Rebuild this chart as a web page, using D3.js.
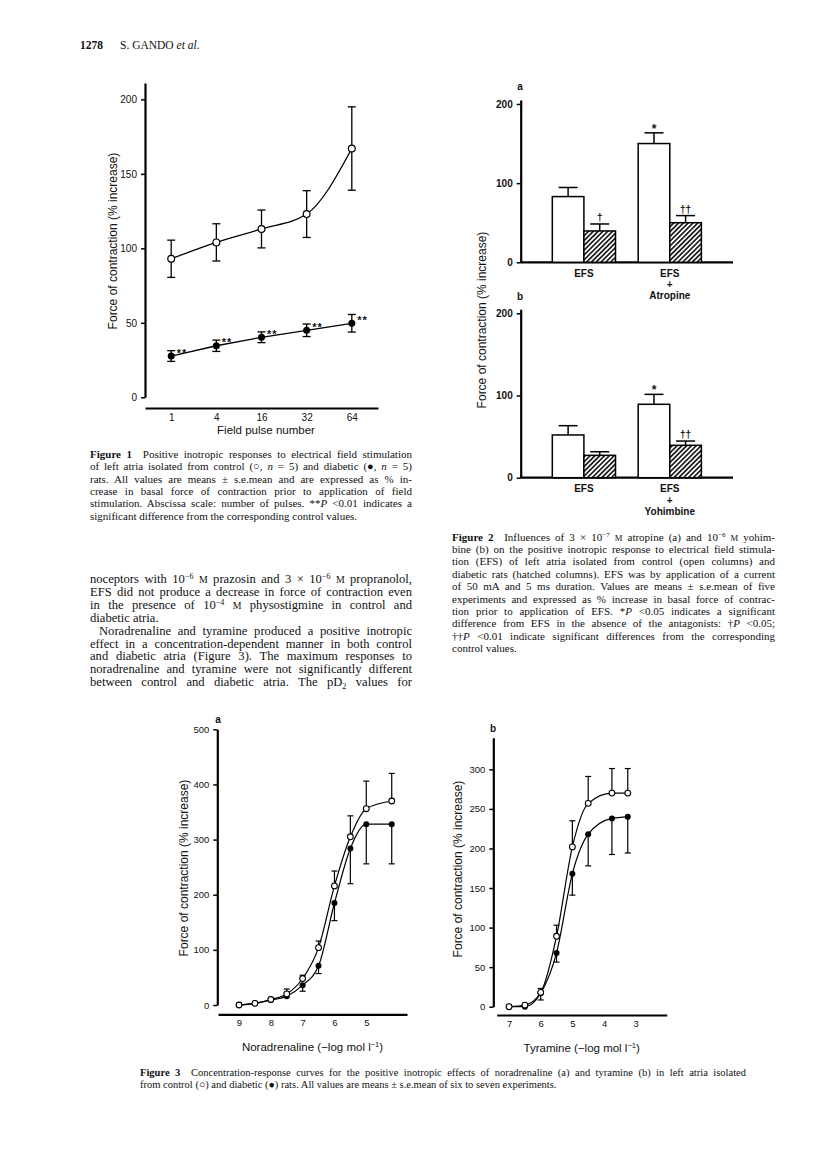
<!DOCTYPE html>
<html><head><meta charset="utf-8">
<script src="https://cdn.jsdelivr.net/npm/d3@7"></script>
<style>html,body{margin:0;padding:0;background:#fff}svg{display:block}</style>
</head><body>
<svg id="page" width="816" height="1171"></svg>
<script>
// ---------------- DATA ----------------
// Figure 1
const fig1Pulses = ["1", "4", "16", "32", "64"];
const fig1Control = [93, 104, 113, 123, 167];
const fig1ControlSE = [12.5, 12.5, 12.7, 15.7, 28];
const fig1Diabetic = [27.7, 34.6, 40.3, 45, 49.7];
const fig1DiabeticSE = [3.6, 3.8, 3.6, 4.2, 5.9];
const fig1DiabeticMarks = ["**", "**", "**", "**", "**"];
const fig1Ticks = [0, 50, 100, 150, 200];

// Figure 2
const fig2Groups = ["EFS", "EFS+drug"];
const fig2Ticks = [0, 100, 200];
const fig2aLabels = [["EFS"], ["EFS", "+", "Atropine"]];
const fig2aControl = [83, 150];
const fig2aControlSE = [11.5, 13.5];
const fig2aDiabetic = [39.6, 50];
const fig2aDiabeticSE = [8.8, 9];
const fig2aControlMarks = ["", "*"];
const fig2aDiabeticMarks = ["†", "††"];
const fig2bLabels = [["EFS"], ["EFS", "+", "Yohimbine"]];
const fig2bControl = [52, 89.3];
const fig2bControlSE = [11.3, 12.1];
const fig2bDiabetic = [27.2, 39.4];
const fig2bDiabeticSE = [4.4, 5.2];
const fig2bControlMarks = ["", "*"];
const fig2bDiabeticMarks = ["", "††"];

// Figure 3a noradrenaline (-log M)
const naConc = [9, 8.5, 8, 7.5, 7, 6.5, 6, 5.5, 5, 4.2];
const naControl = [0, 3, 10, 20, 48, 104, 216, 305, 356, 370];
const naControlSE = [0, 0, 0, 9, 6, 12, 27, 38, 50, 50];
const naDiabetic = [0, 3, 9, 16, 36, 71, 185, 284, 328, 328];
const naDiabeticSE = [0, 0, 0, 0, 11, 14, 32, 64, 72, 72];
const naXTicks = [9, 8, 7, 6, 5];
const naYTicks = [0, 100, 200, 300, 400, 500];

// Figure 3b tyramine (-log M)
const tyConc = [7, 6.5, 6, 5.5, 5, 4.5, 3.75, 3.25];
const tyControl = [0, 2, 18, 89, 202, 257, 270, 270];
const tyControlSE = [0, 0, 5, 14, 33, 34, 31, 31];
const tyDiabetic = [0, 0, 17, 68, 168, 218, 238, 240];
const tyDiabeticSE = [0, 0, 8.5, 11.6, 27, 40, 45.6, 45.7];
const tyXTicks = [7, 6, 5, 4, 3];
const tyYTicks = [0, 50, 100, 150, 200, 250, 300];

// Text
const caption1 = [
  "<b>Figure 1</b>\u2002 Positive inotropic responses to electrical field stimulation",
  "of left atria isolated from control (○, <i>n</i> = 5) and diabetic (●, <i>n</i> = 5)",
  "rats. All values are means ± s.e.mean and are expressed as % in-",
  "crease in basal force of contraction prior to application of field",
  "stimulation. Abscissa scale: number of pulses. **<i>P</i> &lt;0.01 indicates a",
  "significant difference from the corresponding control values."
];
const bodyText = [
  "noceptors with 10<sup>−6</sup> <sc>M</sc> prazosin and 3 × 10<sup>−6</sup> <sc>M</sc> propranolol,",
  "EFS did not produce a decrease in force of contraction even",
  "in the presence of 10<sup>−4</sup> <sc>M</sc> physostigmine in control and",
  "diabetic atria.",
  "Noradrenaline and tyramine produced a positive inotropic",
  "effect in a concentration-dependent manner in both control",
  "and diabetic atria (Figure 3). The maximum responses to",
  "noradrenaline and tyramine were not significantly different",
  "between control and diabetic atria. The pD<sub>2</sub> values for"
];
const caption2 = [
  "<b>Figure 2</b>\u2002 Influences of 3 × 10<sup>−7</sup> <sc>M</sc> atropine (a) and 10<sup>−6</sup> <sc>M</sc> yohim-",
  "bine (b) on the positive inotropic response to electrical field stimula-",
  "tion (EFS) of left atria isolated from control (open columns) and",
  "diabetic rats (hatched columns). EFS was by application of a current",
  "of 50 mA and 5 ms duration. Values are means ± s.e.mean of five",
  "experiments and expressed as % increase in basal force of contrac-",
  "tion prior to application of EFS. *<i>P</i> &lt;0.05 indicates a significant",
  "difference from EFS in the absence of the antagonists: †<i>P</i> &lt;0.05;",
  "††<i>P</i> &lt;0.01 indicate significant differences from the corresponding",
  "control values."
];
const caption3 = [
  "<b>Figure 3</b>\u2002 Concentration-response curves for the positive inotropic effects of noradrenaline (a) and tyramine (b) in left atria isolated",
  "from control (○) and diabetic (●) rats. All values are means ± s.e.mean of six to seven experiments."
];

// ---------------- DRAWING ----------------
const SANS = "'Liberation Sans', Arial, Helvetica, sans-serif";
const SERIF = "'Liberation Serif', 'Times New Roman', serif";
const svg = d3.select("#page");
svg.append("rect").attr("width", 816).attr("height", 1171).attr("fill", "#fff");

const defs = svg.append("defs");
const pat = defs.append("pattern").attr("id", "hatch").attr("patternUnits", "userSpaceOnUse")
  .attr("width", 3.4).attr("height", 3.4).attr("patternTransform", "rotate(45)");
pat.append("rect").attr("width", 3.4).attr("height", 3.4).attr("fill", "#fff");
pat.append("line").attr("x1", 1.7).attr("y1", -1).attr("x2", 1.7).attr("y2", 4.4)
  .attr("stroke", "#000").attr("stroke-width", 1.5);

function styleAxis(g, fs, weight) {
  g.select(".domain").attr("stroke", "#000").attr("stroke-width", 2.2);
  g.selectAll(".tick line").attr("stroke", "#000").attr("stroke-width", 1.5);
  g.selectAll(".tick text").attr("font-family", SANS).attr("font-size", fs)
    .attr("font-weight", weight).attr("fill", "#111");
}

function addRich(t, str, size) {
  str = str.replace(/&lt;/g, "\u2039LT\u203A");
  const re = /<(\/?)(b|i|sup|sub|sc)>/g;
  let last = 0, m, shift = 0;
  const st = { b: 0, i: 0, sup: 0, sub: 0, sc: 0 };
  const push = (s) => {
    if (!s) return;
    s = s.replace(/\u2039LT\u203A/g, "<");
    const target = st.sup ? -0.33 * size : st.sub ? 0.22 * size : 0;
    const ts = t.append("tspan").text(s);
    if (target !== shift) { ts.attr("dy", target - shift); shift = target; }
    if (st.b) ts.attr("font-weight", "bold");
    if (st.i) ts.attr("font-style", "italic");
    if (st.sup || st.sub) ts.attr("font-size", size * 0.64);
    else if (st.sc) ts.attr("font-size", size * 0.78);
  };
  while ((m = re.exec(str))) {
    push(str.slice(last, m.index));
    st[m[2]] += m[1] ? -1 : 1;
    last = re.lastIndex;
  }
  push(str.slice(last));
}

function drawBlock(lines, x, y0, lh, width, size, opts = {}) {
  const g = svg.append("g");
  lines.forEach((ln, i) => {
    const indent = (opts.indents && opts.indents[i]) || 0;
    const t = g.append("text").attr("x", x + indent).attr("y", y0 + i * lh)
      .attr("font-family", SERIF).attr("font-size", size).attr("fill", "#111");
    addRich(t, ln, size);
    const justify = opts.noJustify ? !opts.noJustify.includes(i) : true;
    if (justify) {
      const w = t.node().getComputedTextLength();
      const spaces = (t.text().trim().match(/ +/g) || []).length;
      if (spaces > 0) t.style("word-spacing", ((width - indent - w) / spaces) + "px");
    }
  });
  return g;
}

// ---- Header ----
svg.append("text").attr("x", 80).attr("y", 49).attr("font-family", SERIF).attr("font-size", 11.5)
  .attr("font-weight", "bold").attr("fill", "#111").text("1278");
{
  const t = svg.append("text").attr("x", 120).attr("y", 49).attr("font-family", SERIF)
    .attr("font-size", 11.5).attr("fill", "#111");
  addRich(t, "S. GANDO <i>et al.</i>", 11.5);
}

// ---- Figure 1 ----
{
  const x = d3.scalePoint().domain(fig1Pulses).range([145, 378]).padding(0.58);
  const y = d3.scaleLinear().domain([0, 211]).range([397.3, 83]);
  const g = svg.append("g");
  g.append("g").attr("transform", "translate(145,0)")
    .call(d3.axisLeft(y).tickValues(fig1Ticks).tickSize(4).tickSizeOuter(0).tickPadding(4))
    .call(styleAxis, 10, "normal");
  g.append("g").attr("transform", "translate(0,408)")
    .call(d3.axisBottom(x).tickSize(0).tickSizeOuter(0).tickPadding(6))
    .call(styleAxis, 10, "normal");
  g.append("text").attr("x", 266).attr("y", 434).attr("text-anchor", "middle")
    .attr("font-family", SANS).attr("font-size", 11.5).attr("fill", "#111").text("Field pulse number");
  g.append("text").attr("transform", "translate(117,241) rotate(-90)").attr("text-anchor", "middle")
    .attr("font-family", SANS).attr("font-size", 12).attr("fill", "#111").text("Force of contraction (% increase)");

  const ctrl = fig1Pulses.map((p, i) => ({ p, v: fig1Control[i], se: fig1ControlSE[i] }));
  const diab = fig1Pulses.map((p, i) => ({ p, v: fig1Diabetic[i], se: fig1DiabeticSE[i], mk: fig1DiabeticMarks[i] }));
  g.append("path").datum(ctrl).attr("fill", "none").attr("stroke", "#000").attr("stroke-width", 1.3)
    .attr("d", d3.line().x(d => x(d.p)).y(d => y(d.v)).curve(d3.curveMonotoneX));
  g.append("path").datum(diab).attr("fill", "none").attr("stroke", "#000").attr("stroke-width", 1.3)
    .attr("d", d3.line().x(d => x(d.p)).y(d => y(d.v)));
  [ctrl, diab].forEach(data => {
    const eb = g.append("g").attr("stroke", "#000").attr("stroke-width", 1.3);
    data.forEach(d => {
      const cx = x(d.p);
      eb.append("line").attr("x1", cx).attr("x2", cx).attr("y1", y(d.v - d.se)).attr("y2", y(d.v + d.se));
      eb.append("line").attr("x1", cx - 4).attr("x2", cx + 4).attr("y1", y(d.v + d.se)).attr("y2", y(d.v + d.se));
      eb.append("line").attr("x1", cx - 4).attr("x2", cx + 4).attr("y1", y(d.v - d.se)).attr("y2", y(d.v - d.se));
    });
  });
  g.selectAll(".c1").data(ctrl).join("circle").attr("cx", d => x(d.p)).attr("cy", d => y(d.v)).attr("r", 3.4)
    .attr("fill", "#fff").attr("stroke", "#000").attr("stroke-width", 1.2);
  g.selectAll(".d1").data(diab).join("circle").attr("cx", d => x(d.p)).attr("cy", d => y(d.v)).attr("r", 3.5)
    .attr("fill", "#000");
  g.selectAll(".m1").data(diab).join("text").attr("x", d => x(d.p) + 5.5).attr("y", d => y(d.v) + 0.5)
    .attr("font-family", SANS).attr("font-size", 11).attr("font-weight", "bold").attr("letter-spacing", 1)
    .attr("fill", "#111").text(d => d.mk);
}

// ---- Figure 2 ----
function drawFig2(opts) {
  const { y0, yTop, letterY, labels, control, controlSE, diabetic, diabeticSE, cMarks, dMarks, letter } = opts;
  const x = d3.scaleBand().domain(fig2Groups).range([520.7, 733]).paddingInner(0.264).paddingOuter(0.368);
  const xs = d3.scaleBand().domain(["control", "diabetic"]).range([0, x.bandwidth()]);
  const y = d3.scaleLinear().domain([0, 205]).range([y0, yTop]);
  const g = svg.append("g");
  g.append("g").attr("transform", "translate(520.7,0)")
    .call(d3.axisLeft(y).tickValues(fig2Ticks).tickSize(4).tickSizeOuter(0).tickPadding(4))
    .call(styleAxis, 10, "bold");
  g.append("line").attr("x1", 520.7).attr("x2", 733).attr("y1", y(0)).attr("y2", y(0))
    .attr("stroke", "#000").attr("stroke-width", 2.2);
  g.append("text").attr("x", 520).attr("y", letterY).attr("text-anchor", "middle").attr("font-family", SANS)
    .attr("font-size", 10).attr("font-weight", "bold").attr("fill", "#111").text(letter);
  const rows = fig2Groups.map((gr, i) => [
    { gr, k: "control", v: control[i], se: controlSE[i], mk: cMarks[i] },
    { gr, k: "diabetic", v: diabetic[i], se: diabeticSE[i], mk: dMarks[i] }
  ]).flat();
  const bx = d => x(d.gr) + xs(d.k);
  const bw = xs.bandwidth();
  g.selectAll(".eb").data(rows).join("line").attr("x1", d => bx(d) + bw / 2).attr("x2", d => bx(d) + bw / 2)
    .attr("y1", d => y(d.v)).attr("y2", d => y(d.v + d.se)).attr("stroke", "#000").attr("stroke-width", 1.5);
  g.selectAll(".cap").data(rows).join("line").attr("x1", d => bx(d) + bw / 2 - 9.5).attr("x2", d => bx(d) + bw / 2 + 9.5)
    .attr("y1", d => y(d.v + d.se)).attr("y2", d => y(d.v + d.se)).attr("stroke", "#000").attr("stroke-width", 1.5);
  g.selectAll(".bar").data(rows).join("rect").attr("x", bx).attr("width", bw)
    .attr("y", d => y(d.v)).attr("height", d => y(0) - y(d.v))
    .attr("fill", d => d.k === "control" ? "#fff" : "url(#hatch)").attr("stroke", "#000").attr("stroke-width", 1.5);
  g.selectAll(".mk").data(rows.filter(d => d.mk)).join("text").attr("x", d => bx(d) + bw / 2)
    .attr("y", d => y(d.v + d.se) - (d.mk === "*" ? 0 : 3)).attr("text-anchor", "middle")
    .attr("font-family", SANS).attr("font-size", d => d.mk === "*" ? 12 : 10).attr("font-weight", "bold")
    .attr("fill", "#111").text(d => d.mk);
  fig2Groups.forEach((gr, i) => {
    labels[i].forEach((s, j) => {
      g.append("text").attr("x", x(gr) + x.bandwidth() / 2).attr("y", y(0) + 14.5 + j * 11.3)
        .attr("text-anchor", "middle").attr("font-family", SANS).attr("font-size", 10).attr("font-weight", "bold")
        .attr("fill", "#111").text(s);
    });
  });
}
drawFig2({ y0: 262.3, yTop: 100, letterY: 90, labels: fig2aLabels, control: fig2aControl, controlSE: fig2aControlSE,
  diabetic: fig2aDiabetic, diabeticSE: fig2aDiabeticSE, cMarks: fig2aControlMarks, dMarks: fig2aDiabeticMarks, letter: "a" });
drawFig2({ y0: 477.7, yTop: 309.2, letterY: 300, labels: fig2bLabels, control: fig2bControl, controlSE: fig2bControlSE,
  diabetic: fig2bDiabetic, diabeticSE: fig2bDiabeticSE, cMarks: fig2bControlMarks, dMarks: fig2bDiabeticMarks, letter: "b" });
svg.append("text").attr("transform", "translate(486,320) rotate(-90)").attr("text-anchor", "middle")
  .attr("font-family", SANS).attr("font-size", 12).attr("fill", "#111").text("Force of contraction (% increase)");

// ---- Figure 3 ----
function drawFig3(o) {
  const x = d3.scaleLinear().domain(o.xDomain).range(o.xRange);
  const y = d3.scaleLinear().domain(o.yDomain).range(o.yRange);
  const g = svg.append("g");
  g.append("g").attr("transform", `translate(${o.xRange[0] + o.yAxisShift},0)`)
    .call(d3.axisLeft(y).tickValues(o.yTicks).tickSize(4).tickSizeOuter(0).tickPadding(4).tickFormat(d3.format("d")))
    .call(styleAxis, 9.5, "normal");
  g.append("g").attr("transform", `translate(0,${o.xAxisY})`)
    .call(d3.axisBottom(x).tickValues(o.xTicks).tickSize(0).tickSizeOuter(0).tickPadding(5).tickFormat(d3.format("d")))
    .call(styleAxis, 9.5, "normal");
  g.append("text").attr("x", o.letterX).attr("y", o.letterY).attr("text-anchor", "middle").attr("font-family", SANS)
    .attr("font-size", 10).attr("font-weight", "bold").attr("fill", "#111").text(o.letter);
  g.append("text").attr("transform", `translate(${o.titleX},${o.titleY}) rotate(-90)`).attr("text-anchor", "middle")
    .attr("font-family", SANS).attr("font-size", 12).attr("fill", "#111").text("Force of contraction (% increase)");
  const xl = g.append("text").attr("x", (o.xRange[0] + o.xRange[1]) / 2).attr("y", o.xAxisY + 37)
    .attr("text-anchor", "middle").attr("font-family", SANS).attr("font-size", 11.5).attr("fill", "#111");
  xl.append("tspan").text(o.xLabel + " (−log mol l");
  xl.append("tspan").attr("dy", -4).attr("font-size", 7.5).text("−1");
  xl.append("tspan").attr("dy", 4).text(")");

  const ctrl = o.conc.map((c, i) => ({ c, v: o.control[i], se: o.controlSE[i] }));
  const diab = o.conc.map((c, i) => ({ c, v: o.diabetic[i], se: o.diabeticSE[i] }));
  const line = d3.line().x(d => x(d.c)).y(d => y(d.v)).curve(d3.curveMonotoneX);
  [ctrl, diab].forEach(data => g.append("path").datum(data).attr("d", line).attr("fill", "none")
    .attr("stroke", "#000").attr("stroke-width", 1.2));
  const eb = g.append("g").attr("stroke", "#000").attr("stroke-width", 1.2);
  ctrl.filter(d => d.se > 0).forEach(d => {
    eb.append("line").attr("x1", x(d.c)).attr("x2", x(d.c)).attr("y1", y(d.v)).attr("y2", y(d.v + d.se));
    eb.append("line").attr("x1", x(d.c) - 3).attr("x2", x(d.c) + 3).attr("y1", y(d.v + d.se)).attr("y2", y(d.v + d.se));
  });
  diab.filter(d => d.se > 0).forEach(d => {
    eb.append("line").attr("x1", x(d.c)).attr("x2", x(d.c)).attr("y1", y(d.v)).attr("y2", y(d.v - d.se));
    eb.append("line").attr("x1", x(d.c) - 3).attr("x2", x(d.c) + 3).attr("y1", y(d.v - d.se)).attr("y2", y(d.v - d.se));
  });
  g.selectAll(".dd").data(diab).join("circle").attr("cx", d => x(d.c)).attr("cy", d => y(d.v)).attr("r", 3)
    .attr("fill", "#000");
  g.selectAll(".cc").data(ctrl).join("circle").attr("cx", d => x(d.c)).attr("cy", d => y(d.v)).attr("r", 2.9)
    .attr("fill", "#fff").attr("stroke", "#000").attr("stroke-width", 1.1);
}
drawFig3({ xDomain: [9.66, 3.72], xRange: [218, 407], yDomain: [0, 500], yRange: [1005, 729.3], yAxisShift: -0.7,
  xAxisY: 1014.3, xTicks: naXTicks, yTicks: naYTicks, letter: "a", letterX: 218, letterY: 723,
  titleX: 188, titleY: 868, xLabel: "Noradrenaline",
  conc: naConc, control: naControl, controlSE: naControlSE, diabetic: naDiabetic, diabeticSE: naDiabeticSE });
drawFig3({ xDomain: [7.39, 2.02], xRange: [496.7, 666.7], yDomain: [0, 340], yRange: [1006.7, 737.7], yAxisShift: -3.4,
  xAxisY: 1015, xTicks: tyXTicks, yTicks: tyYTicks, letter: "b", letterX: 493, letterY: 732,
  titleX: 462, titleY: 869, xLabel: "Tyramine",
  conc: tyConc, control: tyControl, controlSE: tyControlSE, diabetic: tyDiabetic, diabeticSE: tyDiabeticSE });

// ---- Text blocks ----
drawBlock(caption1, 90, 458, 12.3, 322, 11, { noJustify: [5] });
drawBlock(bodyText, 90, 583, 12.9, 322, 12.6, { noJustify: [3], indents: { 4: 9 } });
drawBlock(caption2, 452, 540.5, 12.4, 323, 11, { noJustify: [9] });
drawBlock(caption3, 140, 1076, 12.2, 606, 10.5, { noJustify: [1] });
</script>
</body></html>
